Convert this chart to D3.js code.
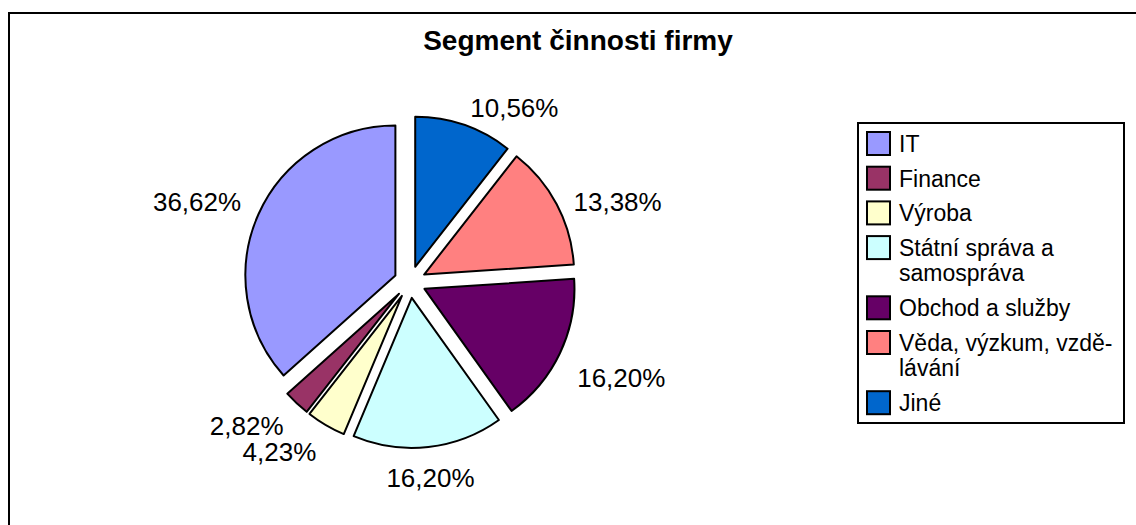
<!DOCTYPE html>
<html>
<head>
<meta charset="utf-8">
<script src="https://cdn.jsdelivr.net/npm/d3@7"></script>
<style>
  body { margin: 0; background: #fff; }
  text { font-family: Arial, "Liberation Sans", sans-serif; fill: #000; }
</style>
</head>
<body>
<svg width="1136" height="525"></svg>
<script>
// data, in legend order (pie runs counter-clockwise from 12 o'clock)
var categories = ['IT', 'Finance', 'Výroba', 'Státní správa a samospráva',
    'Obchod a služby', 'Věda, výzkum, vzdělávání', 'Jiné'];
var shares = [36.62, 2.82, 4.23, 16.20, 16.20, 13.38, 10.56];
var legendLines = [['IT'], ['Finance'], ['Výroba'], ['Státní správa a', 'samospráva'],
    ['Obchod a služby'], ['Věda, výzkum, vzdě-', 'lávání'], ['Jiné']];
var colors = ['#9999FF', '#993366', '#FFFFCC', '#CCFFFF', '#660066', '#FF8080', '#0066CC'];

var data = categories.map(function(c, i) {
    return {name: c, value: shares[i], lines: legendLines[i]};
});

var svg = d3.select('svg');

// outer chart frame (runs off the right and bottom edges)
svg.append('rect')
    .attr('x', 9).attr('y', 13)
    .attr('width', 1140).attr('height', 530)
    .attr('fill', 'none')
    .attr('stroke', '#000')
    .attr('stroke-width', 2);

svg.append('text')
    .attr('x', 578)
    .attr('y', 50)
    .attr('text-anchor', 'middle')
    .attr('font-size', 28)
    .attr('font-weight', 'bold')
    .text('Segment činnosti firmy');

var cx = 410, cy = 282, radius = 150, explode = 16;

var pie = d3.pie()
    .sort(null)
    .value(function(d) { return d.value; })
    .startAngle(0)
    .endAngle(-2 * Math.PI);

var arc = d3.arc().innerRadius(0).outerRadius(radius);
var color = d3.scaleOrdinal().domain(categories).range(colors);
var fmt = function(v) { return d3.format('.2f')(v).replace('.', ',') + '%'; };

var arcs = pie(data);

function mid(d) { return (d.startAngle + d.endAngle) / 2; }

var g = svg.append('g').attr('transform', 'translate(' + cx + ',' + cy + ')');

g.selectAll('path')
    .data(arcs)
    .enter()
    .append('path')
    .attr('d', arc)
    .attr('transform', function(d) {
        var a = mid(d);
        return 'translate(' + (Math.sin(a) * explode) + ',' + (-Math.cos(a) * explode) + ')';
    })
    .attr('fill', function(d) { return color(d.data.name); })
    .attr('stroke', '#000')
    .attr('stroke-width', 2)
    .attr('stroke-linejoin', 'round');

// percentage labels outside the slices
var labelR = 185, labelH = 24;
g.selectAll('text.pct')
    .data(arcs)
    .enter()
    .append('text')
    .attr('class', 'pct')
    .attr('font-size', 26)
    .attr('text-anchor', 'middle')
    .attr('dy', '0.35em')
    .text(function(d) { return fmt(d.data.value); })
    .each(function(d) {
        var a = mid(d);
        var dx = Math.sin(a), dy = -Math.cos(a);
        var w = this.getComputedTextLength();
        // push the box sideways only once the slice leans left or right
        var push = Math.max(0, Math.min(1, (Math.abs(dx) - 0.12) / 0.2));
        var x = labelR * dx + (dx >= 0 ? 1 : -1) * push * w / 2;
        var y = labelR * dy + dy * labelH / 2 + (dx >= 0 ? labelH / 2 * push : 0);
        d3.select(this).attr('x', x).attr('y', y);
    });

// legend
var legend = svg.append('g');
legend.append('rect')
    .attr('x', 858).attr('y', 123)
    .attr('width', 266).attr('height', 300)
    .attr('fill', '#fff')
    .attr('stroke', '#000')
    .attr('stroke-width', 2);

var rowY = 132;
data.forEach(function(d) {
    var row = legend.append('g').attr('transform', 'translate(0,' + rowY + ')');
    row.append('rect')
        .attr('x', 867).attr('y', 0)
        .attr('width', 23).attr('height', 23)
        .attr('fill', color(d.name))
        .attr('stroke', '#000')
        .attr('stroke-width', 2);
    d.lines.forEach(function(line, j) {
        row.append('text')
            .attr('x', 899)
            .attr('y', 20 + j * 25)
            .attr('font-size', 23)
            .text(line);
    });
    rowY += 34.7 + (d.lines.length - 1) * 25.5;
});
</script>
</body>
</html>
